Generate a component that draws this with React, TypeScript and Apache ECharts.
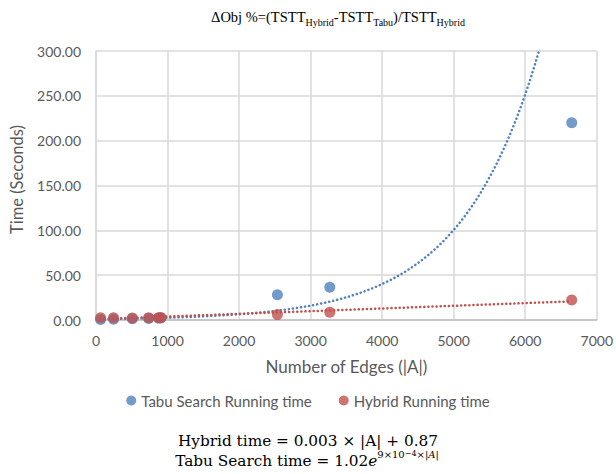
import React, { useEffect, useRef } from "react";
import * as echarts from "echarts";

const edges = [64, 245, 508, 736, 875, 907, 2536, 3268, 6650];
const tabuTime = [0.6, 0.9, 1.4, 1.8, 2.1, 2.3, 28.2, 36.4, 220];
const hybridTime = [2.5, 2.6, 2.3, 2.4, 2.6, 2.7, 6.0, 8.6, 22.4];
const xTicks = [0, 1000, 2000, 3000, 4000, 5000, 6000, 7000];
const yTicks = [0, 50, 100, 150, 200, 250, 300];
// trendline coefficients (as labelled in the chart)
const hybridSlope = 0.003;
const hybridIntercept = 0.87;
const tabuA = 1.02;
const tabuK = 0.000918;

const BLUE = "#4F81BD";
const RED = "#C0504D";
const GRAY = "#595959";

export default function App() {
  const ref = useRef<HTMLDivElement>(null);
  useEffect(() => {
    if (!ref.current) return;
    const chart = echarts.init(ref.current, undefined, { renderer: "svg" });
    const xMin = Math.min(...edges);
    const xMax = Math.max(...edges);
    const tabuTrend: number[][] = [];
    const hybridTrend: number[][] = [];
    for (let i = 0; i <= 300; i++) {
      const x = xMin + ((xMax - xMin) * i) / 300;
      tabuTrend.push([x, tabuA * Math.exp(tabuK * x)]);
      hybridTrend.push([x, hybridSlope * x + hybridIntercept]);
    }
    const sans = "Lato";
    const serif = "DejaVu Serif";
    const tnr = "Liberation Serif";
    chart.setOption({
      animation: false,
      grid: { left: 95, right: 18, top: 51, bottom: 154 },
      xAxis: {
        type: "value",
        min: xTicks[0],
        max: xTicks[xTicks.length - 1],
        interval: 1000,
        name: "Number of Edges (|A|)",
        nameLocation: "middle",
        nameGap: 38,
        nameTextStyle: { color: GRAY, fontSize: 17, fontFamily: sans },
        axisLine: { show: true, lineStyle: { color: "#BFBFBF", width: 1.5 } },
        axisTick: { show: false },
        axisLabel: {
          color: GRAY,
          fontSize: 14,
          fontFamily: sans,
          margin: 13,
          formatter: (v: number) => String(v),
        },
        splitLine: { show: true, lineStyle: { color: "#D9D9D9", width: 1.5 } },
      },
      yAxis: {
        type: "value",
        min: yTicks[0],
        max: yTicks[yTicks.length - 1],
        interval: 50,
        name: "Time (Seconds)",
        nameLocation: "middle",
        nameGap: 71,
        nameTextStyle: { color: GRAY, fontSize: 16.5, fontFamily: sans, padding: [0, 0, 0, 12] },
        axisLine: { show: true, lineStyle: { color: "#D9D9D9", width: 1.5 } },
        axisTick: { show: false },
        axisLabel: {
          color: GRAY,
          fontSize: 14,
          fontFamily: sans,
          margin: 15,
          formatter: (v: number) => v.toFixed(2),
        },
        splitLine: { show: true, lineStyle: { color: "#D9D9D9", width: 1.5 } },
      },
      legend: {
        top: 388,
        left: "center",
        itemGap: 27,
        itemWidth: 10,
        itemHeight: 10,
        textStyle: { color: GRAY, fontSize: 15, fontFamily: sans },
        data: [
          { name: "Tabu Search Running time", icon: "circle" },
          { name: "Hybrid Running time", icon: "circle" },
        ],
      },
      series: [
        {
          name: "Tabu Search Running time",
          type: "scatter",
          symbolSize: 11,
          itemStyle: { color: BLUE },
          data: edges.map((x, i) => [x, tabuTime[i]]),
          z: 3,
        },
        {
          name: "Hybrid Running time",
          type: "scatter",
          symbolSize: 11,
          itemStyle: { color: RED },
          data: edges.map((x, i) => [x, hybridTime[i]]),
          z: 4,
        },
        {
          name: "tabuTrend",
          type: "line",
          showSymbol: false,
          clip: true,
          lineStyle: { color: BLUE, width: 2.5, type: [0.1, 4], cap: "round" },
          data: tabuTrend,
          z: 2,
        },
        {
          name: "hybridTrend",
          type: "line",
          showSymbol: false,
          clip: true,
          lineStyle: { color: RED, width: 2.5, type: [0.1, 4], cap: "round" },
          data: hybridTrend,
          z: 2,
        },
      ],
      graphic: [
        {
          type: "text",
          x: 338,
          y: 17,
          style: {
            text: "{m|ΔObj %=(TSTT}{s|Hybrid}{m|-TSTT}{s|Tabu}{m|)/TSTT}{s|Hybrid}",
            align: "center",
            verticalAlign: "middle",
            rich: {
              m: { fontFamily: tnr, fontSize: 14.5, fill: "#000", lineHeight: 20 },
              s: { fontFamily: tnr, fontSize: 10, fill: "#000", lineHeight: 13, verticalAlign: "bottom" },
            },
          },
        },
        {
          type: "text",
          x: 308,
          y: 441,
          style: {
            text: "Hybrid time = 0.003 × |A| + 0.87",
            align: "center",
            verticalAlign: "middle",
            fontFamily: serif,
            fontSize: 15.3,
            fill: "#000",
          },
        },
        {
          type: "text",
          x: 307,
          y: 461,
          style: {
            text: "{m|Tabu Search time = 1.02}{e|e}{p|9×10}{q|−4}{p|×|}{pi|A}{p||}",
            align: "center",
            verticalAlign: "middle",
            rich: {
              m: { fontFamily: serif, fontSize: 15.3, fill: "#000", lineHeight: 24 },
              e: { fontFamily: serif, fontStyle: "italic", fontSize: 15.3, fill: "#000", lineHeight: 24 },
              p: { fontFamily: serif, fontSize: 10, fill: "#000", lineHeight: 12, verticalAlign: "top" },
              pi: { fontFamily: serif, fontStyle: "italic", fontSize: 10, fill: "#000", lineHeight: 12, verticalAlign: "top" },
              q: { fontFamily: serif, fontSize: 8, fill: "#000", lineHeight: 8, verticalAlign: "top" },
            },
          },
        },
      ],
    });
    return () => chart.dispose();
  }, []);
  return (
    <div
      ref={ref}
      style={{ position: "absolute", left: 0, top: 0, width: 616, height: 474 }}
    />
  );
}
